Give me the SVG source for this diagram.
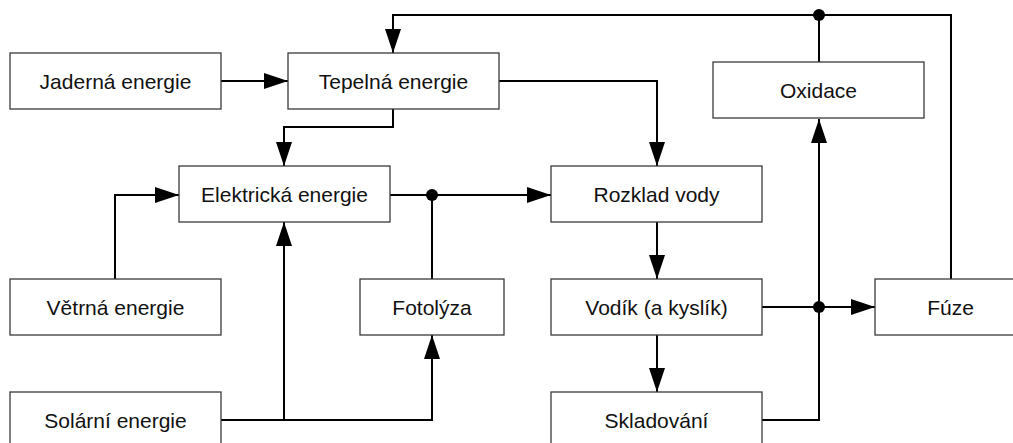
<svg xmlns="http://www.w3.org/2000/svg" width="1013" height="443" viewBox="0 0 1013 443">
<style>
.box{fill:#fff;stroke:#3a3a3a;stroke-width:1.3}
.lbl{font-family:"Liberation Sans",Arial,sans-serif;font-size:21px;fill:#111;text-anchor:middle}
.ln{fill:none;stroke:#000;stroke-width:2}
.dot{fill:#000}
</style>
<defs>
<marker id="arr" markerUnits="userSpaceOnUse" markerWidth="24" markerHeight="16" refX="24" refY="8" orient="auto">
<path d="M0,0 L24,8 L0,16 Z" fill="#000"/>
</marker>
</defs>
<rect width="1013" height="443" fill="#fff"/>
<g id="connectors">
<path class="ln" d="M220,81 H288" marker-end="url(#arr)"/>
<path class="ln" d="M951,279 V15 H393 V53" marker-end="url(#arr)"/>
<path class="ln" d="M819,62 V15"/>
<path class="ln" d="M393,109 V127 H284 V166" marker-end="url(#arr)"/>
<path class="ln" d="M498,81 H657 V166" marker-end="url(#arr)"/>
<path class="ln" d="M115,279 V195 H179" marker-end="url(#arr)"/>
<path class="ln" d="M390,195 H551" marker-end="url(#arr)"/>
<path class="ln" d="M432,279 V195"/>
<path class="ln" d="M220,420 H432 V335" marker-end="url(#arr)"/>
<path class="ln" d="M284,420 V222" marker-end="url(#arr)"/>
<path class="ln" d="M657,222 V279" marker-end="url(#arr)"/>
<path class="ln" d="M657,335 V392" marker-end="url(#arr)"/>
<path class="ln" d="M762,307 H875" marker-end="url(#arr)"/>
<path class="ln" d="M762,420 H819 V119" marker-end="url(#arr)"/>
<circle class="dot" cx="819" cy="15" r="6"/>
<circle class="dot" cx="432" cy="195" r="6"/>
<circle class="dot" cx="819" cy="307" r="6"/>
</g>
<g id="jaderna"><rect class="box" x="10" y="53" width="211" height="56"/><text class="lbl" x="115.5" y="88.5">Jaderná energie</text></g>
<g id="tepelna"><rect class="box" x="288" y="53" width="211" height="56"/><text class="lbl" x="393.5" y="88.5">Tepelná energie</text></g>
<g id="oxidace"><rect class="box" x="713" y="62" width="211" height="56"/><text class="lbl" x="818.5" y="97.5">Oxidace</text></g>
<g id="elektricka"><rect class="box" x="179" y="166" width="211" height="56"/><text class="lbl" x="284.5" y="201.5">Elektrická energie</text></g>
<g id="rozklad"><rect class="box" x="551" y="166" width="211" height="56"/><text class="lbl" x="656.5" y="201.5">Rozklad vody</text></g>
<g id="vetrna"><rect class="box" x="10" y="279" width="211" height="56"/><text class="lbl" x="115.5" y="314.5">Větrná energie</text></g>
<g id="fotolyza"><rect class="box" x="360" y="279" width="144" height="56"/><text class="lbl" x="432" y="314.5">Fotolýza</text></g>
<g id="vodik"><rect class="box" x="551" y="279" width="211" height="56"/><text class="lbl" x="656.5" y="314.5">Vodík (a kyslík)</text></g>
<g id="fuze"><rect class="box" x="875" y="279" width="211" height="56"/><text class="lbl" x="950.5" y="314.5">Fúze</text></g>
<g id="solarni"><rect class="box" x="10" y="392" width="211" height="56"/><text class="lbl" x="115.5" y="427.5">Solární energie</text></g>
<g id="skladovani"><rect class="box" x="551" y="392" width="211" height="56"/><text class="lbl" x="656.5" y="427.5">Skladování</text></g>
</svg>
